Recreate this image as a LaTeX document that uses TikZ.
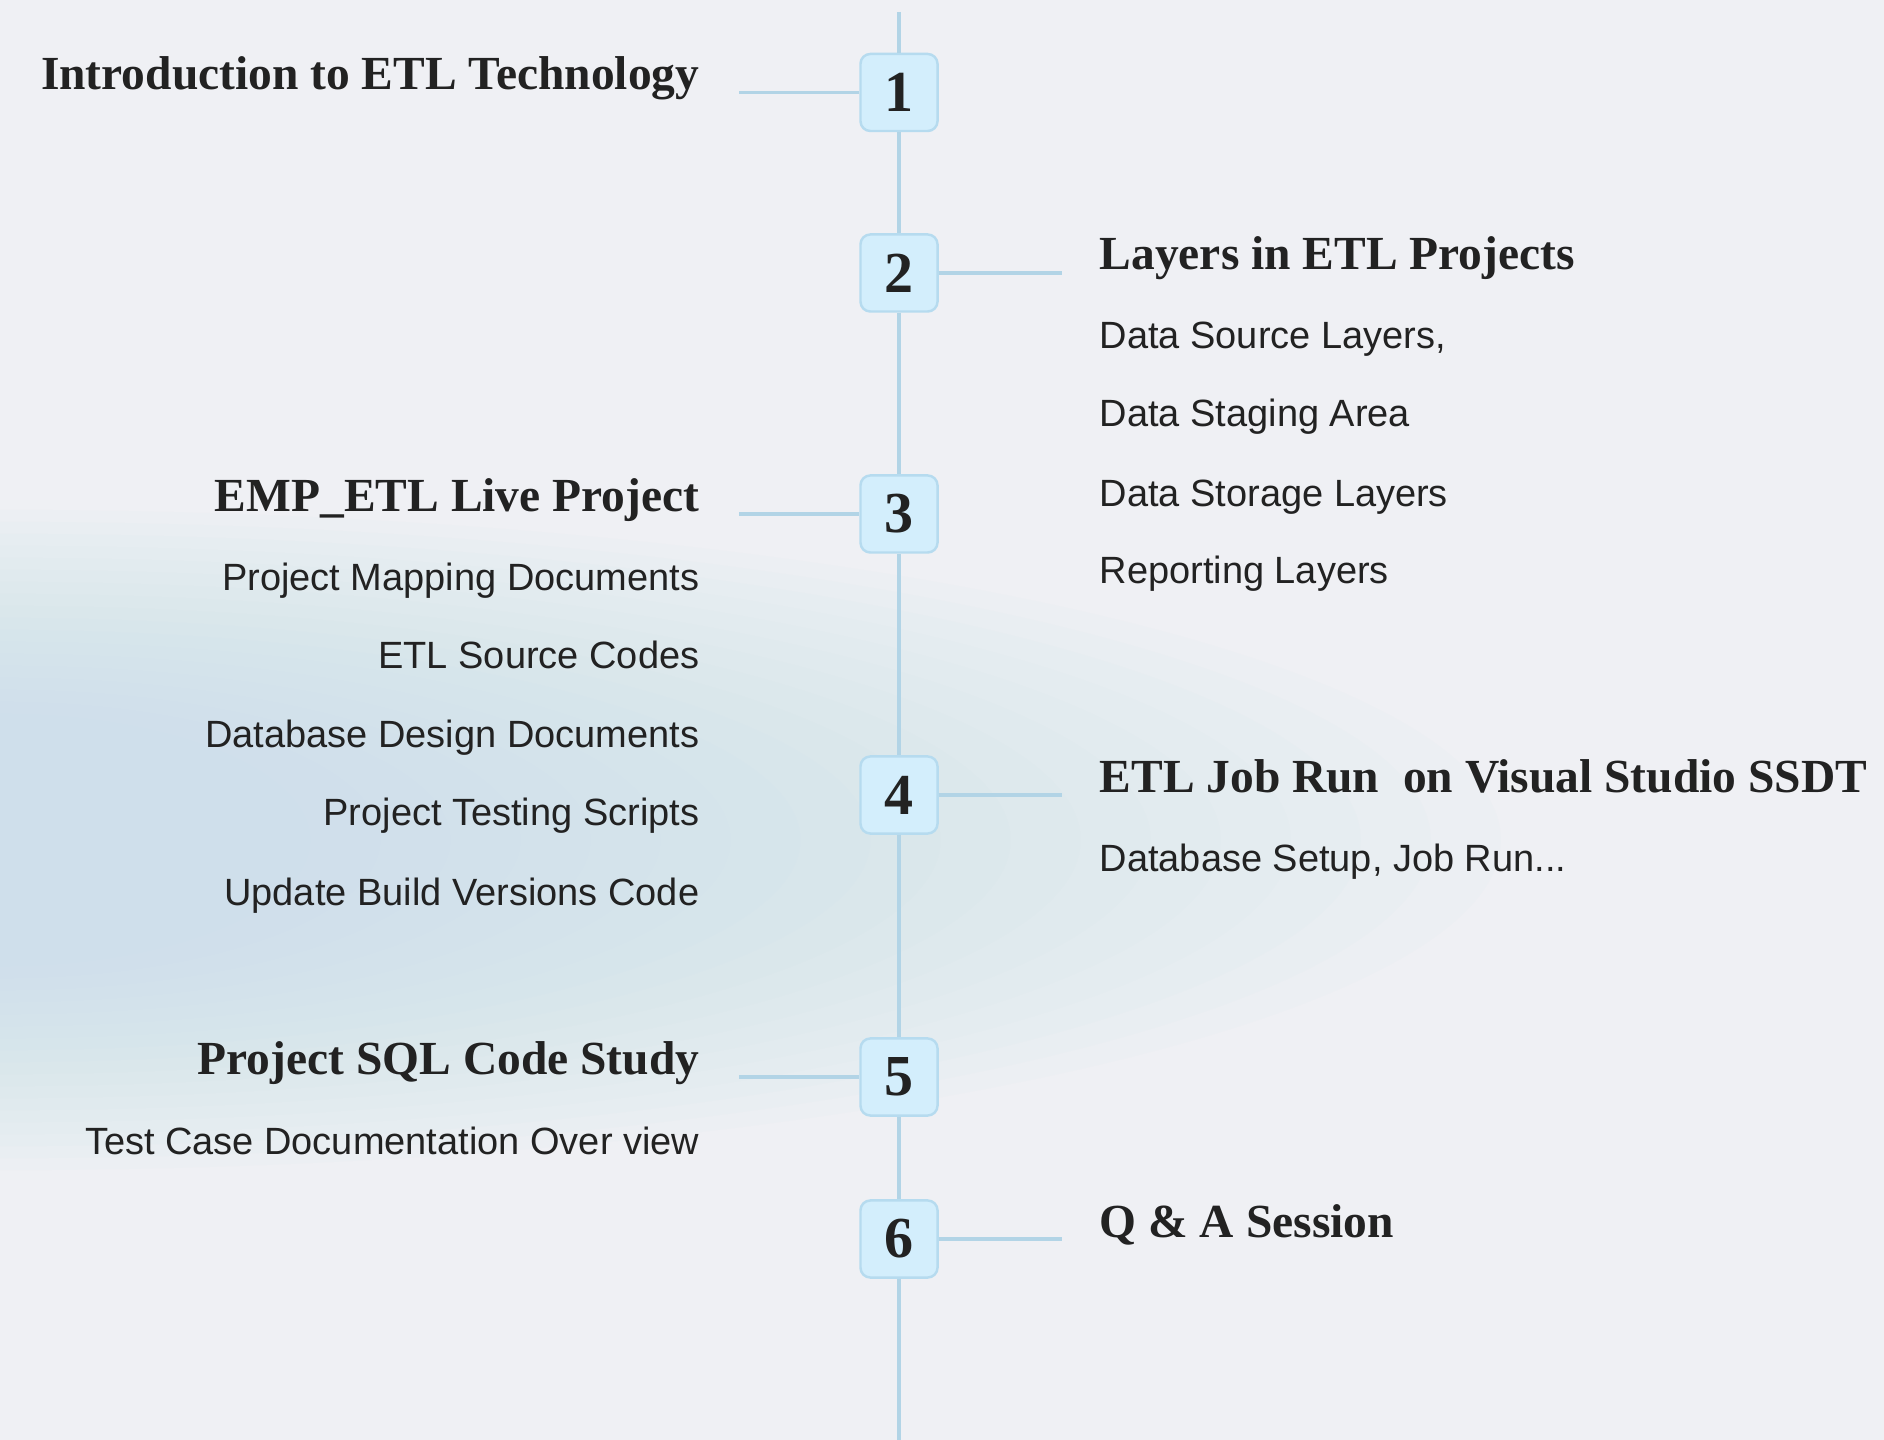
\documentclass[tikz,border=0pt]{standalone}
\usepackage{fontspec}
\setmainfont{Liberation Serif}
\setsansfont{Liberation Sans}
\definecolor{bgcol}{HTML}{EFF0F4}
\definecolor{mistcol}{HTML}{C4DFEB}
\definecolor{linecol}{HTML}{B2D4E6}
\definecolor{boxfill}{HTML}{D3EEFC}
\definecolor{boxline}{HTML}{B6DBEF}
\definecolor{inkcol}{HTML}{222222}

\begin{document}
\begin{tikzpicture}[x=0.01cm,y=-0.01cm,
  spine/.style={draw=linecol,line width=0.9pt},
  numbox/.style={draw=boxline,fill=boxfill,line width=0.7pt,rounded corners=2.8pt,
    minimum width=0.77cm,minimum height=0.77cm,inner sep=0pt,text=inkcol,
    font=\fontsize{16.5}{18}\selectfont\bfseries},
  headl/.style={anchor=base east,inner sep=0pt,text=inkcol,font=\fontsize{13.5}{16}\selectfont\bfseries},
  headr/.style={anchor=base west,inner sep=0pt,text=inkcol,font=\fontsize{13.5}{16}\selectfont\bfseries},
  iteml/.style={anchor=base east,inner sep=0pt,text=inkcol,font=\sffamily\fontsize{10.8}{13}\selectfont},
  itemr/.style={anchor=base west,inner sep=0pt,text=inkcol,font=\sffamily\fontsize{10.8}{13}\selectfont}]

\useasboundingbox (0,0) rectangle (1884,1440);
\fill[bgcol] (0,0) rectangle (1884,1440);
\begin{scope}
\clip (0,0) rectangle (1884,1440);
\foreach \i in {0,...,17}
  \fill[mistcol,opacity=0.055] (0,840) ellipse [x radius={15cm-0.7cm*\i},y radius={3.3cm-0.12cm*\i}];
\end{scope}

\coordinate (top) at (899,12);
\coordinate (bot) at (899,1440);

\node[numbox] (s1) at (899,92.5) {1};
\node[numbox] (s2) at (899,273) {2};
\node[numbox] (s3) at (899,514) {3};
\node[numbox] (s4) at (899,795) {4};
\node[numbox] (s5) at (899,1077) {5};
\node[numbox] (s6) at (899,1239) {6};

\coordinate (c1) at (739,92.5);
\coordinate (c2) at (1062,273);
\coordinate (c3) at (739,514);
\coordinate (c4) at (1062,795);
\coordinate (c5) at (739,1077);
\coordinate (c6) at (1062,1239);

\draw[spine] (top) -- (s1);
\draw[spine] (s1) -- (s2);
\draw[spine] (s2) -- (s3);
\draw[spine] (s3) -- (s4);
\draw[spine] (s4) -- (s5);
\draw[spine] (s5) -- (s6);
\draw[spine] (s6) -- (bot);

\draw[spine] (s1) -- (c1);
\draw[spine] (s2) -- (c2);
\draw[spine] (s3) -- (c3);
\draw[spine] (s4) -- (c4);
\draw[spine] (s5) -- (c5);
\draw[spine] (s6) -- (c6);

\node[headl] (t1) at (700,90) {Introduction to ETL Technology};

\node[headr] (t2) at (1099,270) {Layers in ETL Projects};
\node[itemr] (a1) at (1099,349) {Data Source Layers,};
\node[itemr] (a2) at (1099,427) {Data Staging Area};
\node[itemr] (a3) at (1099,507) {Data Storage Layers};
\node[itemr] (a4) at (1099,584) {Reporting Layers};

\node[headl] (t3) at (700,512) {EMP\_ETL Live Project};
\node[iteml] (b1) at (700,591) {Project Mapping Documents};
\node[iteml] (b2) at (700,669) {ETL Source Codes};
\node[iteml] (b3) at (700,748) {Database Design Documents};
\node[iteml] (b4) at (700,826) {Project Testing Scripts};
\node[iteml] (b5) at (700,906) {Update Build Versions Code};

\node[headr] (t4) at (1099,793) {ETL Job Run\ \ on Visual Studio SSDT};
\node[itemr] (d1) at (1099,872) {Database Setup, Job Run...};

\node[headl] (t5) at (700,1075) {Project SQL Code Study};
\node[iteml] (e1) at (700,1154) {Test Case Documentation Over view};

\node[headr] (t6) at (1099,1237) {Q \& A Session};

\end{tikzpicture}
\end{document}
